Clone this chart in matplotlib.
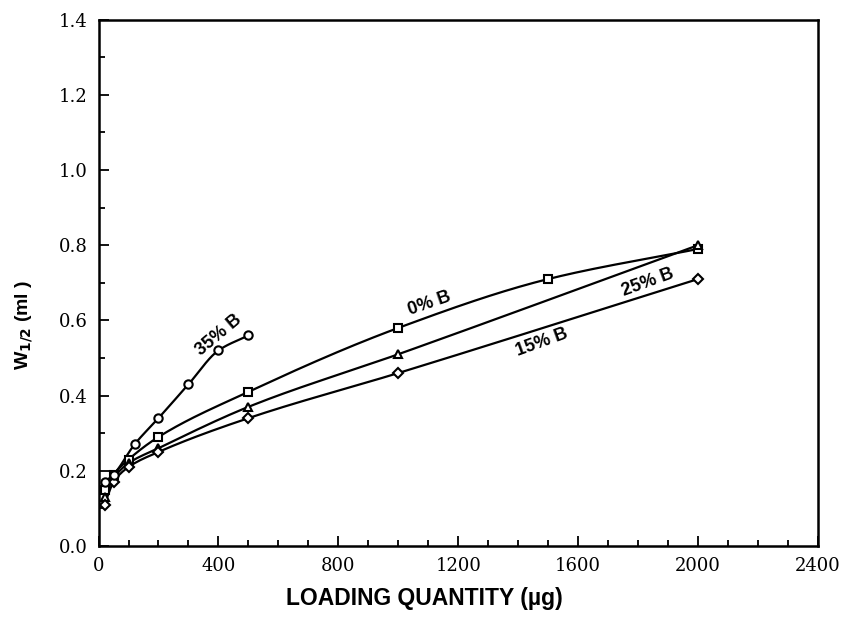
import numpy as np
import matplotlib
matplotlib.use("Agg")
import matplotlib.pyplot as plt
from matplotlib.ticker import MultipleLocator, FormatStrFormatter

# Loading quantity (ug) and peak half-width W1/2 (ml) for each mobile phase
x_0b = [20, 50, 100, 200, 500, 1000, 1500, 2000]
w_0b = [0.15, 0.19, 0.23, 0.29, 0.41, 0.58, 0.71, 0.79]

x_25b = [20, 50, 100, 200, 500, 1000, 2000]
w_25b = [0.13, 0.18, 0.22, 0.26, 0.37, 0.51, 0.80]

x_15b = [20, 50, 100, 200, 500, 1000, 2000]
w_15b = [0.11, 0.17, 0.21, 0.25, 0.34, 0.46, 0.71]

x_35b = [20, 50, 120, 200, 300, 400, 500]
w_35b = [0.17, 0.19, 0.27, 0.34, 0.43, 0.52, 0.56]


def smooth(x, y, n=200):
    # monotone cubic (Fritsch-Carlson) curve through the measured points
    x = np.asarray(x, float)
    y = np.asarray(y, float)
    h = np.diff(x)
    d = np.diff(y) / h
    m = np.zeros_like(y)
    m[0], m[-1] = d[0], d[-1]
    for i in range(1, len(x) - 1):
        if d[i - 1] * d[i] > 0:
            w1 = 2 * h[i] + h[i - 1]
            w2 = h[i] + 2 * h[i - 1]
            m[i] = (w1 + w2) / (w1 / d[i - 1] + w2 / d[i])
    xs = np.linspace(x[0], x[-1], n)
    k = np.clip(np.searchsorted(x, xs) - 1, 0, len(x) - 2)
    t = (xs - x[k]) / h[k]
    h00 = 2 * t**3 - 3 * t**2 + 1
    h10 = t**3 - 2 * t**2 + t
    h01 = -2 * t**3 + 3 * t**2
    h11 = t**3 - t**2
    ys = h00 * y[k] + h10 * h[k] * m[k] + h01 * y[k + 1] + h11 * h[k] * m[k + 1]
    return xs, ys


fig = plt.figure(figsize=(8.45, 6.23), dpi=100)
ax = fig.add_axes([0.1166, 0.1236, 0.8515, 0.845])

series = [
    (x_0b, w_0b, "s"),
    (x_25b, w_25b, "^"),
    (x_15b, w_15b, "D"),
    (x_35b, w_35b, "o"),
]
for xs, ys, mk in series:
    cx, cy = smooth(xs, ys)
    ax.plot(cx, cy, color="black", lw=1.6, zorder=2)
    ax.plot(xs, ys, linestyle="none", marker=mk, ms=6 if mk != "D" else 5,
            mfc="white", mec="black", mew=1.5, zorder=3)

lab = dict(fontsize=13, fontweight="bold", family="Liberation Sans",
           ha="center", va="center")
ax.text(400, 0.56, "35% B", rotation=40, **lab)
ax.text(1104, 0.644, "0% B", rotation=19, **lab)
ax.text(1831, 0.702, "25% B", rotation=20, **lab)
ax.text(1480, 0.54, "15% B", rotation=20, **lab)

ax.set_xlim(0, 2400)
ax.set_ylim(0, 1.4)
ax.xaxis.set_major_locator(MultipleLocator(400))
ax.xaxis.set_minor_locator(MultipleLocator(100))
ax.yaxis.set_major_locator(MultipleLocator(0.2))
ax.yaxis.set_minor_locator(MultipleLocator(0.1))
ax.yaxis.set_major_formatter(FormatStrFormatter("%.1f"))
ax.tick_params(which="both", direction="in", top=False, right=False,
               width=1.3, labelsize=13, pad=8)
ax.tick_params(which="major", length=7)
ax.tick_params(which="minor", length=4.5)
for lbl in ax.get_xticklabels() + ax.get_yticklabels():
    lbl.set_family("DejaVu Serif")
for sp in ax.spines.values():
    sp.set_linewidth(1.8)

ax.set_xlabel("LOADING QUANTITY (\u00b5g)", fontsize=16.5, fontweight="bold",
              family="Liberation Sans")
ax.xaxis.set_label_coords(0.453, -0.078)
ax.set_ylabel("W$_{\\mathbf{1/2}}$ (ml )", fontsize=14, fontweight="bold",
              family="Liberation Sans")
ax.yaxis.set_label_coords(-0.088, 0.42)

fig.savefig("out.png", dpi=100)
